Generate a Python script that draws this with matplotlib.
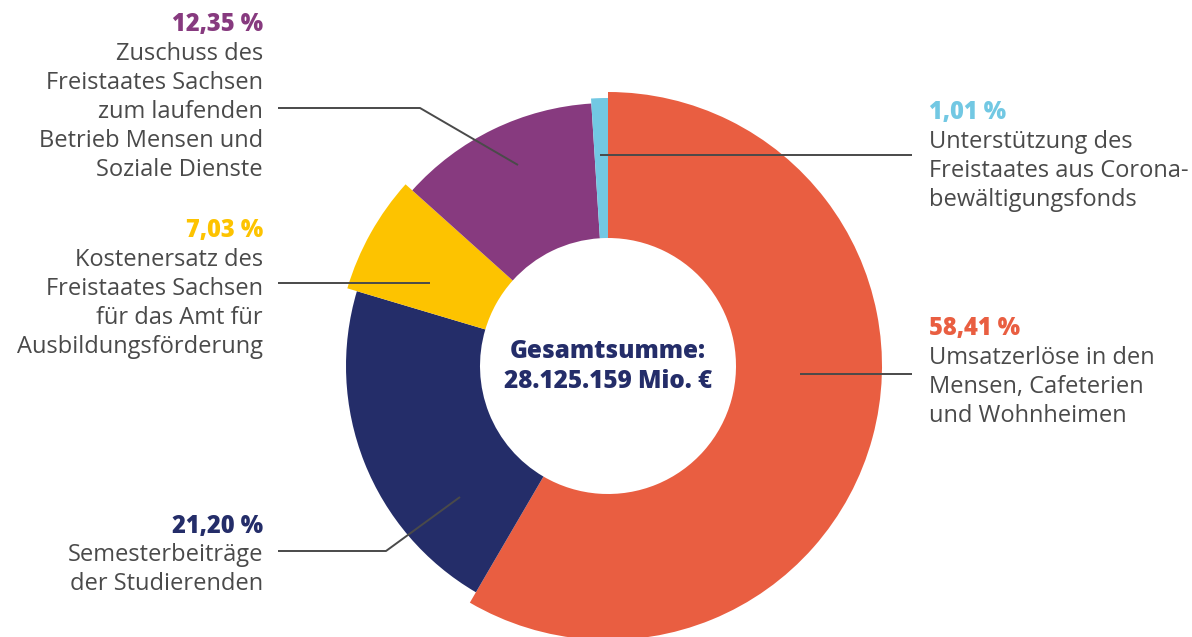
import numpy as np
import matplotlib
matplotlib.use("Agg")
import matplotlib.pyplot as plt
from matplotlib.patches import Wedge

# data (clockwise from 12 o'clock)
shares = [58.41, 21.20, 7.03, 12.35, 1.01]
pct_labels = ["58,41 %", "21,20 %", "7,03 %", "12,35 %", "1,01 %"]
descriptions = [
    ["Umsatzerlöse in den", "Mensen, Cafeterien", "und Wohnheimen"],
    ["Semesterbeiträge", "der Studierenden"],
    ["Kostenersatz des", "Freistaates Sachsen", "für das Amt für", "Ausbildungsförderung"],
    ["Zuschuss des", "Freistaates Sachsen", "zum laufenden", "Betrieb Mensen und", "Soziale Dienste"],
    ["Unterstützung des", "Freistaates aus Corona-", "bewältigungsfonds"],
]
colors = ["#E95E41", "#242D69", "#FDC300", "#873A7F", "#72C8E3"]
total_label = ["Gesamtsumme:", "28.125.159 Mio. €"]

# layout (pixel coordinates, y from top)
W, H = 1192, 637
cx, cy = 608, 366
outer_r = [274, 262, 272, 263, 268]
inner_r = 128
text_color = "#4A4A4A"
line_color = "#4A4A4A"
FONT = "Open Sans"

fig = plt.figure(figsize=(W / 100, H / 100), dpi=100)
ax = fig.add_axes([0, 0, 1, 1])
ax.set_xlim(0, W)
ax.set_ylim(0, H)
ax.set_aspect("equal")
ax.axis("off")


def Y(y):
    return H - y


# wedges
start = 90.0
for share, col, r in zip(shares, colors, outer_r):
    sweep = share / 100 * 360
    ax.add_patch(Wedge((cx, Y(cy)), r, start - sweep, start, width=r - inner_r,
                       facecolor=col, edgecolor="none", zorder=1))
    start -= sweep

# leader lines
leaders = [
    [(800, 374), (912, 374)],                 # orange
    [(460, 497), (386, 551), (278, 551)],     # navy
    [(430, 283), (278, 283)],                 # yellow
    [(518, 165), (420, 108), (278, 108)],     # purple
    [(600, 155), (912, 155)],                 # light blue
]
for pts in leaders:
    xs = [p[0] for p in pts]
    ys = [Y(p[1]) for p in pts]
    ax.plot(xs, ys, color=line_color, lw=1.4, zorder=3, solid_capstyle="butt")

# labels: (x, y of percentage line, alignment)
label_pos = [
    (929, 329, "left"),
    (263, 526, "right"),
    (263, 231, "right"),
    (263, 25, "right"),
    (929, 113, "left"),
]
step = 29
for (x, y0, ha), pct, desc, col in zip(label_pos, pct_labels, descriptions, colors):
    ax.text(x, Y(y0), pct, ha=ha, va="center", fontsize=17, fontweight="extra bold",
            color=col, family=FONT)
    for i, line in enumerate(desc):
        ax.text(x, Y(y0 + step * (i + 1)), line, ha=ha, va="center", fontsize=17,
                color=text_color, family=FONT)

# center text
ax.text(cx, Y(352), total_label[0], ha="center", va="center", fontsize=17.5,
        fontweight="extra bold", color=colors[1], family=FONT)
ax.text(cx, Y(381), total_label[1], ha="center", va="center", fontsize=17.5,
        fontweight="extra bold", color=colors[1], family=FONT)

fig.savefig("out.png", dpi=100, facecolor="white")
